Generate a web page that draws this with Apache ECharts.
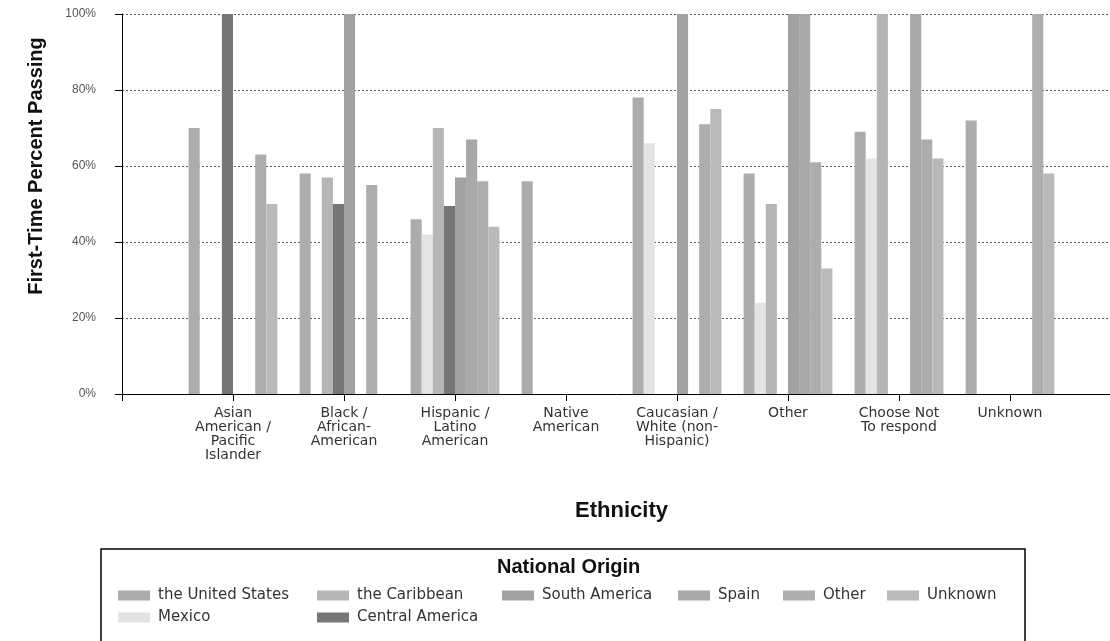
<!DOCTYPE html>
<html>
<head>
<meta charset="utf-8">
<script src="https://cdn.jsdelivr.net/npm/echarts@6/dist/echarts.min.js"></script>
<style>
  html, body { margin: 0; padding: 0; background: #fff; }
  #chart { width: 1110px; height: 641px; }
</style>
</head>
<body>
<div id="chart"></div>
<script>
// ethnic groups on the x axis
const ethnicities = [
  'Asian\nAmerican /\nPacific\nIslander',
  'Black /\nAfrican-\nAmerican',
  'Hispanic /\nLatino\nAmerican',
  'Native\nAmerican',
  'Caucasian /\nWhite (non-\nHispanic)',
  'Other',
  'Choose Not\nTo respond',
  'Unknown'
];

const yTicks = [0, 20, 40, 60, 80, 100];

// first-time percent passing, one value per ethnicity (null = no bar)
const unitedStates   = [70, 58, 46, 56, 78, 58, 69, 72];
const mexico         = [null, null, 42, null, 66, 24, 62, null];
const caribbean      = [null, 57, 70, null, null, 50, 100, null];
const centralAmerica = [100, 50, 49.5, null, null, null, null, null];
const southAmerica   = [null, 100, 57, null, 100, 100, null, null];
const spain          = [null, null, 67, null, null, 100, 100, null];
const otherOrigin    = [63, 55, 56, null, 71, 61, 67, 100];
const unknownOrigin  = [50, null, 44, null, 75, 33, 62, 58];

const originNames = ['the United States', 'Mexico', 'the Caribbean', 'Central America',
  'South America', 'Spain', 'Other', 'Unknown'];
const originValues = [unitedStates, mexico, caribbean, centralAmerica,
  southAmerica, spain, otherOrigin, unknownOrigin];
const originColors = ['#acacac', '#e3e3e3', '#b6b6b6', '#767676',
  '#a2a2a2', '#a8a8a8', '#adadad', '#b9b9b9'];

// legend item spots (swatch left, top)
const legendSpots = [[118, 588], [118, 610], [317, 588], [317, 610],
  [502, 588], [678, 588], [783, 588], [887, 588]];

const chart = echarts.init(document.getElementById('chart'));

// empty slot at each end so groups sit on the tick marks
const axisCats = [''].concat(ethnicities, ['']);

const series = originNames.map((name, i) => ({
  name: name,
  type: 'bar',
  data: [null].concat(originValues[i], [null]),
  barGap: '0%',
  barCategoryGap: '20%',
  itemStyle: { color: originColors[i] },
  emphasis: { disabled: true }
}));

const legends = originNames.map((name, i) => ({
  data: [name],
  left: legendSpots[i][0],
  top: legendSpots[i][1],
  padding: 0,
  icon: 'rect',
  itemWidth: 32,
  itemHeight: 10,
  selectedMode: false,
  textStyle: {
    fontFamily: 'DejaVu Sans',
    fontSize: 15,
    color: '#333',
    padding: [0, 0, 0, 3]
  }
}));

const option = {
  animation: false,
  backgroundColor: '#fff',
  title: {
    text: 'National Origin',
    left: 497,
    top: 557,
    padding: 0,
    textStyle: {
      fontFamily: 'Liberation Sans',
      fontWeight: 'bold',
      fontSize: 20,
      color: '#111'
    }
  },
  legend: legends,
  grid: {
    left: 122,
    right: -11,
    top: 14,
    bottom: 247,
    outerBoundsMode: 'none'
  },
  xAxis: {
    type: 'category',
    data: axisCats,
    boundaryGap: false,
    name: 'Ethnicity',
    nameLocation: 'middle',
    nameGap: 106,
    nameTextStyle: {
      fontFamily: 'Liberation Sans',
      fontWeight: 'bold',
      fontSize: 22,
      color: '#111'
    },
    axisLine: { lineStyle: { color: '#000', width: 1 } },
    axisTick: { length: 7, lineStyle: { color: '#000' } },
    axisLabel: {
      interval: 0,
      margin: 12,
      fontFamily: 'DejaVu Sans',
      fontSize: 14,
      lineHeight: 14,
      color: '#333'
    },
    splitLine: { show: false }
  },
  yAxis: {
    type: 'value',
    min: yTicks[0],
    max: yTicks[yTicks.length - 1],
    interval: 20,
    name: 'First-Time Percent Passing',
    nameLocation: 'middle',
    nameRotate: 90,
    nameGap: 76,
    nameTextStyle: {
      fontFamily: 'Liberation Sans',
      fontWeight: 'bold',
      fontSize: 20,
      color: '#111',
      padding: [0, 0, 0, 76]
    },
    axisLine: { show: true, lineStyle: { color: '#000', width: 1 } },
    axisTick: { show: true, length: 7, lineStyle: { color: '#000' } },
    axisLabel: {
      formatter: '{value}%',
      margin: 26,
      fontFamily: 'Liberation Sans',
      fontSize: 12,
      color: '#555'
    },
    splitLine: {
      lineStyle: { color: '#555', type: [2, 2], width: 1 }
    }
  },
  graphic: [{
    type: 'rect',
    shape: { x: 101, y: 549, width: 924, height: 100 },
    style: { fill: null, stroke: '#000', lineWidth: 1.5 },
    silent: true
  }],
  series: series
};

chart.setOption(option);
</script>
</body>
</html>
